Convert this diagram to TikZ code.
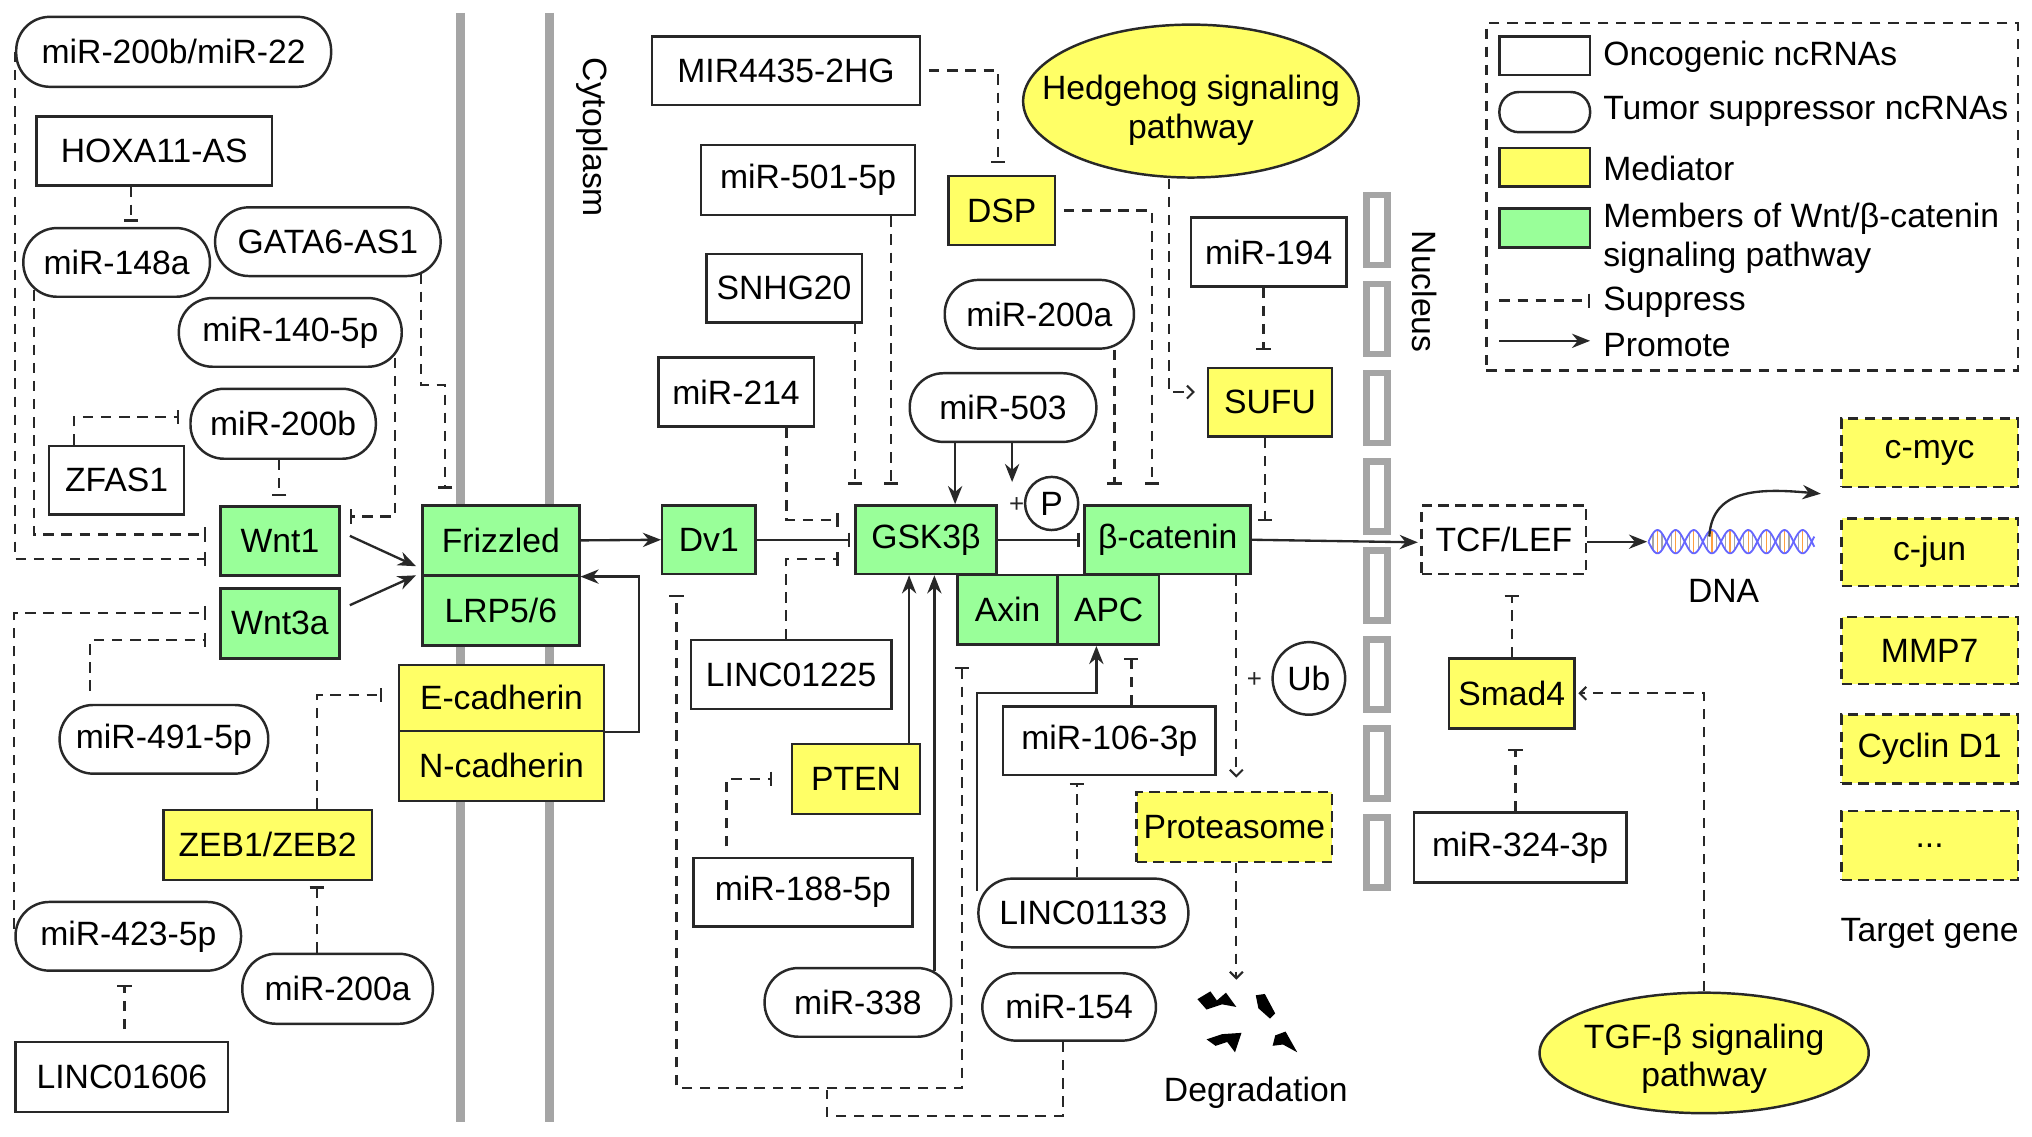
\documentclass[tikz,border=0pt]{standalone}
\usepackage{fontspec}
\setmainfont{Liberation Sans}
\usetikzlibrary{arrows.meta,shapes.geometric,calc}
\definecolor{wntg}{RGB}{153,255,153}
\definecolor{medy}{RGB}{255,255,102}
\definecolor{memg}{RGB}{165,165,165}
\definecolor{edge}{RGB}{40,40,40}
\newcommand\mfs{\fontsize{26}{30}\selectfont}
\begin{document}
\begin{tikzpicture}[x=1pt,y=-1pt,
 base/.style={font=\mfs, inner sep=0pt, line width=1.9pt, draw=edge, text=black},
 onc/.style={base, rectangle, fill=white},
 tsup/.style={base, rectangle, rounded corners=26pt, fill=white},
 med/.style={base, rectangle, fill=medy},
 wnt/.style={base, rectangle, fill=wntg},
 tgt/.style={base, rectangle, fill=medy, dash pattern=on 8pt off 5pt},
 sz/.style 2 args={minimum width=#1pt, minimum height=#2pt},
 lbl/.style={font=\mfs, inner sep=0pt, text=black},
 dline/.style={line width=1.8pt, draw=edge, dash pattern=on 8pt off 6pt},
 sup/.style={dline, -{Bar[width=11pt,line width=1.8pt]}},
 pro/.style={line width=1.8pt, draw=edge, -{Stealth[length=14pt,width=11pt]}},
 dpro/.style={dline, -{Straight Barb[length=5pt,width=10pt,line width=1.6pt]}},
 solbar/.style={line width=1.8pt, draw=edge, -{Bar[width=11pt,line width=1.8pt]}},
 membr/.style={line width=7pt, draw=memg},
 nucseg/.style={line width=5pt, draw=memg},
 frag/.style={fill=black, draw=none},
]
\useasboundingbox (0,0) rectangle (1568,877);
\fill[white] (0,0) rectangle (1568,877);

% membranes
\draw[membr] (355,10) -- (355,866);
\draw[membr] (424,10) -- (424,866);
\node[lbl, rotate=-90] (cyto) at (457,106) {Cytoplasm};

% nucleus envelope
\foreach \i in {0,...,7}{
  \draw[nucseg] (1054.5,{150.5+68.6*\i}) rectangle (1070.5,{204.5+68.6*\i});
}
\node[lbl, rotate=-90] (nucl) at (1099,225) {Nucleus};

% ---------- left nodes
\node[tsup, sz={243}{54}] (m22) at (134,40) {miR-200b/miR-22};
\node[onc, sz={182}{53}] (hox) at (119,116.5) {HOXA11-AS};
\node[tsup, sz={144}{53}] (m148) at (90,202.5) {miR-148a};
\node[tsup, sz={174}{53}] (gata) at (253,186.5) {GATA6-AS1};
\node[tsup, sz={172}{53}] (m140) at (224,256.5) {miR-140-5p};
\node[tsup, sz={143}{54}] (m200b) at (218.5,327) {miR-200b};
\node[onc, sz={104}{53}] (zfas) at (90,370.5) {ZFAS1};
\node[wnt, sz={92}{53}] (wnt1) at (216,417.5) {Wnt1};
\node[wnt, sz={92}{54}] (wnt3) at (216,481) {Wnt3a};
\node[wnt, sz={121}{54}] (frz) at (386.5,417) {Frizzled};
\node[wnt, sz={121}{54}] (lrp) at (386.5,471) {LRP5/6};
\node[med, sz={158}{51}] (ecad) at (387,538.5) {E-cadherin};
\node[med, sz={158}{54}] (ncad) at (387,591) {N-cadherin};
\node[tsup, sz={161}{53}] (m491) at (126.5,570.5) {miR-491-5p};
\node[med, sz={161}{54}] (zeb) at (206.5,652) {ZEB1/ZEB2};
\node[tsup, sz={174}{53}] (m423) at (99,722.5) {miR-423-5p};
\node[tsup, sz={147}{54}] (m200aL) at (260.5,763) {miR-200a};
\node[onc, sz={164}{54}] (l1606) at (94,831) {LINC01606};

% ---------- middle nodes
\node[onc, sz={207}{53}] (mir4435) at (606.5,54.5) {MIR4435-2HG};
\node[onc, sz={165}{54}] (m501) at (623.5,139) {miR-501-5p};
\node[onc, sz={120}{53}] (snhg) at (605,222.5) {SNHG20};
\node[onc, sz={120}{53}] (m214) at (568,302.5) {miR-214};
\node[med, sz={82}{53}] (dsp) at (773,162.5) {DSP};
\node[base, ellipse, fill=medy, sz={259}{118}] (hh) at (919,78) {};
\node[lbl, align=center] (hhtext) at (919,85) {Hedgehog signaling\\pathway};
\node[onc, sz={120}{53}] (m194) at (979,194.5) {miR-194};
\node[tsup, sz={146}{53}] (m200aM) at (802,242.5) {miR-200a};
\node[tsup, sz={144}{53}] (m503) at (774,314.5) {miR-503};
\node[med, sz={96}{53}] (sufu) at (980,310.5) {SUFU};
\node[wnt, sz={72}{53}] (dv1) at (547,416.5) {Dv1};
\node[wnt, sz={109}{53}] (gsk) at (714.5,416.5) {GSK3β};
\node[wnt, sz={128}{53}] (bcat) at (901,416.5) {β-catenin};
\node[wnt, sz={77}{54}] (axin) at (777.5,470.5) {Axin};
\node[wnt, sz={78}{54}] (apc) at (855.5,470.5) {APC};
\node[base, circle, fill=white, minimum size=41pt] (P) at (811.5,388.5) {P};
\node[lbl, font=\fontsize{20}{20}\selectfont, text=edge] (plusP) at (784.5,390) {+};
\node[onc, sz={155}{53}] (l1225) at (610.5,520.5) {LINC01225};
\node[med, sz={99}{54}] (pten) at (660.5,601) {PTEN};
\node[onc, sz={164}{53}] (m106) at (856,571.5) {miR-106-3p};
\node[base, circle, fill=white, minimum size=56pt] (ub) at (1010,523.5) {Ub};
\node[lbl, font=\fontsize{20}{20}\selectfont, text=edge] (plusU) at (968,524.5) {+};
\node[tgt, sz={151}{54}] (prot) at (952.5,638) {Proteasome};
\node[onc, sz={169}{53}] (m188) at (619.5,688.5) {miR-188-5p};
\node[tsup, sz={162}{53}] (l1133) at (836,704.5) {LINC01133};
\node[tsup, sz={144}{53}] (m338) at (662,773.5) {miR-338};
\node[tsup, sz={134}{52}] (m154) at (825,777) {miR-154};
\node[lbl] (degr) at (969,843) {Degradation};

% degradation fragments
\fill[frag] (924,771) -- (934,765) -- (939,772) -- (946,766) -- (954,777) -- (943,775) -- (931,779) -- cycle;
\fill[frag] (969,768) -- (976,767) -- (984,782) -- (980,786) -- (971,778) -- cycle;
\fill[frag] (931,802) -- (943,798) -- (958,797) -- (953,812) -- (947,804) -- (938,807) -- cycle;
\fill[frag] (984,799) -- (992,796) -- (1001,812) -- (990,806) -- (982,807) -- cycle;

% ---------- right nodes
\node[base, fill=white, dash pattern=on 8pt off 5pt, sz={127}{53}] (tcf) at (1160.5,416.5) {TCF/LEF};
\node[med, sz={97}{54}] (smad) at (1166.5,535) {Smad4};
\node[onc, sz={164}{54}] (m324) at (1173,654) {miR-324-3p};
\node[base, ellipse, fill=medy, sz={254}{93}] (tgf) at (1315,812.5) {};
\node[lbl, align=center] (tgftext) at (1315,817) {TGF-β signaling\\pathway};
\node[tgt, sz={136}{53}] (cmyc) at (1489,349.5) {c-myc};
\node[tgt, sz={136}{52}] (cjun) at (1489,426) {c-jun};
\node[tgt, sz={136}{52}] (mmp7) at (1489,502) {MMP7};
\node[tgt, sz={136}{53}] (cycd) at (1489,578) {Cyclin D1};
\node[tgt, sz={136}{53}] (dots) at (1489,652.5) {...};
\node[lbl] (tgene) at (1489,720) {Target gene};

% DNA helix
\coordinate (dna) at (1271,418);
\foreach \i in {1,3,...,35}{
  \draw[line width=0.9pt, draw=gray!70] ({1272+3.5*\i},{418-9*sin(45*\i)}) -- ({1272+3.5*\i},{418+9*sin(45*\i)});
}
\foreach \i in {2,4,...,36}{
  \draw[line width=0.9pt, draw=orange!75] ({1272+3.5*\i},{418-9*sin(45*\i)}) -- ({1272+3.5*\i},{418+9*sin(45*\i)});
}
\draw[line width=1.4pt, draw=blue!60] plot[domain=0:128, samples=120, smooth] ({1272+\x},{418+9*sin(12.857*\x)});
\draw[line width=1.4pt, draw=blue!60] plot[domain=0:128, samples=120, smooth] ({1272+\x},{418-9*sin(12.857*\x)});
\node[lbl] (dnal) at (1330,456) {DNA};
\coordinate (helixtop) at (1319,414);
\coordinate (genetip) at (1405,381);

% legend
\node[draw=edge, line width=1.8pt, dash pattern=on 8pt off 6pt, sz={410}{268}, inner sep=0pt] (legend) at (1352,152) {};
\node[onc, sz={70}{30}] (lg1) at (1192,43) {};
\node[base, rectangle, rounded corners=15pt, fill=white, sz={70}{31}] (lg2) at (1192,86.5) {};
\node[med, sz={70}{30}] (lg3) at (1192,129) {};
\node[wnt, sz={70}{30}] (lg4) at (1192,176) {};
\coordinate (ls1) at (1157,232);
\coordinate (ls2) at (1227,232);
\coordinate (lp1) at (1157,263);
\coordinate (lp2) at (1227,263);
\node[lbl, anchor=west] (lt1) at (1237,44) {Oncogenic ncRNAs};
\node[lbl, anchor=west] (lt2) at (1237,86) {Tumor suppressor ncRNAs};
\node[lbl, anchor=west] (lt3) at (1237,130) {Mediator};
\node[lbl, anchor=west, align=left] (lt4) at (1237,184) {Members of Wnt/β-catenin\\signaling pathway};
\node[lbl, anchor=west] (lt5) at (1237,233) {Suppress};
\node[lbl, anchor=west] (lt6) at (1237,266) {Promote};
\draw[sup] (ls1) -- (ls2);
\draw[pro] (lp1) -- (lp2);

% ---------- connectors, left
\draw[sup] (m22.west) |- ([xshift=-10pt,yshift=-14pt]wnt1.west);
\draw[sup] ([xshift=-64pt,yshift=6pt]m148.south) |- ([xshift=-10pt,yshift=5pt]wnt1.west);
\draw[sup, shorten >=4pt] ([xshift=-18pt]hox.south) -- ([xshift=-18pt]hox.south |- m148.north);
\draw[sup] ([xshift=-33pt]zfas.north) |- ([xshift=-8pt,yshift=5pt]m200b.west);
\draw[sup, shorten >=7pt] ([xshift=-3pt]m200b.south) -- ([xshift=-3pt]m200b.south |- wnt1.north);
\draw[sup] ([xshift=81pt,yshift=8pt]m140.south) |- ([xshift=7pt,yshift=19pt]wnt1.east);
\draw[sup] ([xshift=72pt,yshift=3pt]gata.south) -- ++(0,86) -| ([xshift=-43pt,yshift=12pt]frz.north);
\draw[pro] ([xshift=7pt,yshift=4pt]wnt1.east) -- ([xshift=-4pt,yshift=8pt]frz.south west);
\draw[pro] ([xshift=7pt,yshift=14pt]wnt3.east) -- ([xshift=-4pt,yshift=1pt]frz.south west);
\draw[pro] (ecad.south east) -- ++(26,0) |- (frz.south east);
\draw[sup] ([xshift=-57pt,yshift=10pt]m491.north) |- ([xshift=-10pt,yshift=-13pt]wnt3.west);
\draw[sup] ([yshift=6pt]m423.west) |- ([xshift=-10pt,yshift=8pt]wnt3.west);
\draw[sup] ([xshift=38pt]zeb.north) |- ([xshift=-12pt,yshift=2pt]ecad.west);
\draw[sup, shorten >=4pt] ([xshift=-16pt]m200aL.north) -- ([xshift=-16pt]m200aL.north |- zeb.south);
\draw[sup, shorten <=9pt, shorten >=10pt] ([xshift=2pt]l1606.north) -- ([xshift=2pt]l1606.north |- m423.south);

% ---------- connectors, middle
\draw[pro] (frz.east) -- (dv1.west);
\draw[solbar, shorten >=3pt] (dv1.east) -- (gsk.west);
\draw[solbar, shorten >=3pt] (gsk.east) -- (bcat.west);
\draw[sup] ([xshift=6pt]mir4435.east) -| ([xshift=-3pt,yshift=9pt]dsp.north);
\draw[sup, shorten >=15pt] ([xshift=64pt]m501.south) -- ([xshift=64pt]m501.south |- gsk.north);
\draw[sup, shorten >=15pt] ([xshift=55pt]snhg.south) -- ([xshift=55pt]snhg.south |- gsk.north);
\draw[sup] ([xshift=39pt]m214.south) |- ([xshift=-12pt,yshift=15pt]gsk.west);
\draw[sup] ([xshift=-4pt]l1225.north) |- ([xshift=-12pt,yshift=-15pt]gsk.west);
\draw[pro] ([xshift=-37pt]m503.south) -- ([xshift=-37pt]m503.south |- gsk.north);
\coordinate (pArrow) at (781,372);
\draw[pro] ([xshift=7pt]m503.south) -- (pArrow);
\draw[sup, shorten >=15pt] ([xshift=58pt]m200aM.south) -- ([xshift=58pt]m200aM.south |- bcat.north);
\draw[sup] ([xshift=6pt]dsp.east) -| ([xshift=-12pt,yshift=15pt]bcat.north);
\draw[dpro] ([xshift=-17pt]hh.south) |- ([xshift=-9pt,yshift=8pt]sufu.west);
\draw[sup, shorten >=13pt] ([xshift=-4pt]m194.south) -- ([xshift=-4pt]m194.south |- sufu.north);
\draw[sup] ([xshift=-4pt]sufu.south) -- ($([xshift=-4pt]sufu.south)+(0,64)$);
\draw[pro] (bcat.east) -- ([xshift=-2pt,yshift=-2pt]tcf.west);
\draw[pro] ([yshift=-1.5pt]tcf.east) -- (dna);
\draw[pro] (helixtop) .. controls (1321,376) and (1360,377) .. (genetip);
\draw[sup, shorten >=15pt] (smad.north) -- (smad.north |- tcf.south);
\draw[sup, shorten >=15pt] ([xshift=-3.5pt]m324.north) -- ([xshift=-3.5pt]m324.north |- smad.south);
\draw[dpro] (tgf.north) |- ([xshift=2pt]smad.east);

% ---------- connectors, lower
\draw[dline, {Bar[width=11pt,line width=1.8pt]}-{Bar[width=11pt,line width=1.8pt]}] ([xshift=-35pt,yshift=-16pt]axin.south) -- ++(0,325) -| ([xshift=-25pt,yshift=-15pt]dv1.south);
\coordinate (j154) at (638,841);
\draw[dline] ([xshift=-5pt]m154.south) -- ++(0,57) -| (j154);
\draw[pro] ([xshift=41pt]pten.north) -- ([xshift=41pt]pten.north |- gsk.south);
\draw[pro] ([xshift=59pt,yshift=-3pt]m338.north) -- ([xshift=59pt]m338.north |- gsk.south);
\draw[sup] ([xshift=-59pt,yshift=8pt]m188.north) |- ([xshift=-14pt]pten.west);
\draw[pro] ([yshift=17pt]l1133.west) -- ++(0,-153) -| ([xshift=-9.5pt]apc.south);
\draw[sup, shorten >=9pt] ([xshift=17pt]m106.north) -- ([xshift=17pt]m106.north |- apc.south);
\draw[sup, shorten >=5pt] ([xshift=-5pt]l1133.north) -- ([xshift=-5pt]l1133.north |- m106.south);
\draw[dpro, shorten >=10pt] ([xshift=53pt]bcat.south) -- ([xshift=53pt]bcat.south |- prot.north);
\coordinate (fragtop) at (954,756);
\draw[dpro] ([xshift=1.5pt]prot.south) -- (fragtop);
\end{tikzpicture}
\end{document}
